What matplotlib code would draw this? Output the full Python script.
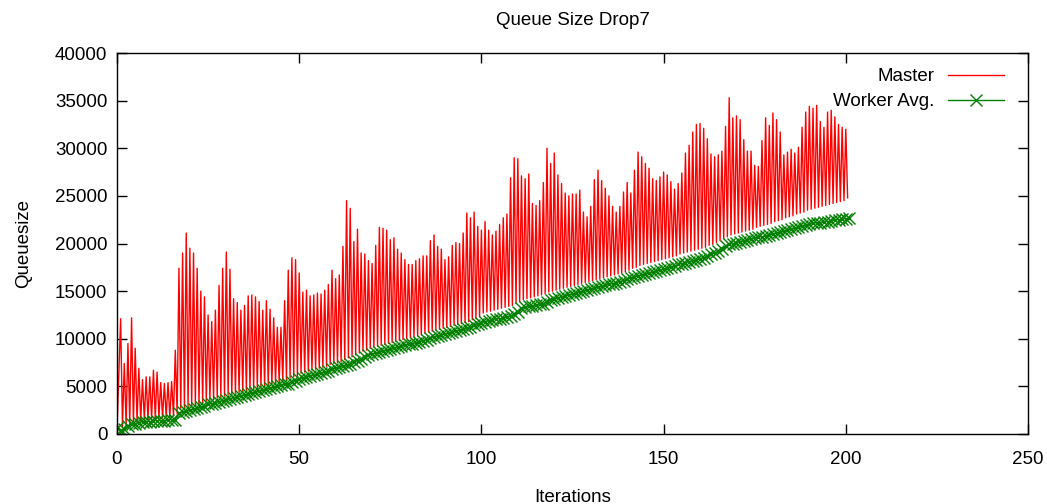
import numpy as np
import matplotlib
matplotlib.use('Agg')
from matplotlib import pyplot as plt

plt.rcParams['font.family'] = ['Liberation Sans', 'DejaVu Sans']
plt.rcParams['font.size'] = 13.5

# master queue size: value at start, peak at each iteration i, trough at i+0.5
master_start = 500
master_peaks = [12100, 7400, 9500, 12200, 9000, 6900, 5700, 6000, 6000, 6700,
                6500, 5400, 5300, 5400, 5500, 8800, 17400, 19000, 21100, 19500,
                19000, 17400, 15000, 14400, 12500, 11800, 13000, 15600, 17400, 19100,
                17300, 14200, 13800, 13000, 13500, 14500, 14600, 14400, 13900, 13000,
                14000, 13100, 12200, 11200, 11200, 14000, 17200, 18500, 18300, 16900,
                14900, 15100, 14500, 14600, 14800, 14700, 15100, 15700, 17200, 16300,
                16700, 19700, 24500, 23700, 20200, 21500, 19000, 18900, 18200, 17900,
                19800, 21700, 21600, 21400, 20400, 20600, 19400, 19000, 18300, 17800,
                17800, 18200, 18400, 18700, 18700, 20300, 20900, 19700, 19400, 18300,
                18600, 19800, 20100, 20000, 21100, 23200, 22700, 23300, 21800, 21400,
                22300, 21400, 20900, 21300, 22000, 22700, 23100, 26900, 29000, 28900,
                27100, 26800, 27300, 24200, 24000, 24500, 26400, 30000, 28400, 29500,
                27200, 26300, 25300, 25000, 25200, 25200, 25600, 23300, 22800, 23900,
                26700, 27700, 26600, 25800, 25000, 23900, 23300, 23900, 25400, 26400,
                25300, 27700, 29600, 29100, 28400, 27900, 26800, 26600, 27000, 27500,
                27200, 26500, 25700, 26300, 27400, 29500, 30300, 31700, 32500, 32600,
                32100, 31000, 29400, 29100, 29300, 29700, 32300, 35300, 33200, 33400,
                33000, 30900, 29700, 29700, 28200, 28100, 30800, 33200, 32400, 33700,
                33000, 31700, 29300, 29600, 29900, 29500, 30100, 32200, 33800, 34400,
                34200, 34500, 32800, 32200, 33800, 34000, 33300, 32500, 32200, 32000]
master_troughs = [800, 900, 1100, 1200, 1300, 1400, 1500, 1500, 1600, 1600,
                  1700, 1700, 1800, 1800, 1900, 2100, 2700, 2800, 2900, 3000,
                  3100, 3200, 3300, 3500, 3600, 3700, 3800, 3900, 4000, 4100,
                  4200, 4300, 4400, 4500, 4600, 4700, 4800, 4900, 5000, 5100,
                  5200, 5300, 5400, 5500, 5600, 5700, 5900, 6000, 6100, 6400,
                  6500, 6600, 6700, 6800, 6900, 7000, 7100, 7300, 7400, 7500,
                  7600, 7800, 8000, 8100, 8300, 8500, 8700, 8800, 9000, 9100,
                  9200, 9300, 9400, 9500, 9600, 9700, 9800, 9900, 10000, 10100,
                  10200, 10300, 10400, 10600, 10700, 10800, 10900, 11000, 11100, 11200,
                  11300, 11400, 11500, 11600, 11700, 11800, 12000, 12100, 12300, 12700,
                  12800, 12900, 13000, 13100, 13200, 13300, 13400, 13500, 13700, 13900,
                  14100, 14200, 14300, 14400, 14500, 14600, 14700, 14900, 15000, 15100,
                  15200, 15300, 15400, 15500, 15600, 15700, 15800, 15900, 16000, 16100,
                  16200, 16300, 16400, 16500, 16600, 16700, 16800, 16900, 17000, 17200,
                  17400, 17500, 17700, 17800, 17900, 18000, 18100, 18200, 18300, 18400,
                  18500, 18600, 18700, 18900, 19000, 19100, 19200, 19300, 19400, 19500,
                  19600, 19800, 19900, 20100, 20300, 20500, 20700, 20900, 21000, 21100,
                  21200, 21300, 21400, 21500, 21700, 21800, 21900, 22000, 22100, 22300,
                  22400, 22500, 22700, 22800, 22900, 23100, 23200, 23300, 23500, 23600,
                  23700, 23800, 23900, 24000, 24100, 24200, 24300, 24400, 24500, 24800]

# worker average queue size, one value per iteration 0..201
worker_avg = [600, 400, 500, 800, 1000, 1100, 1200, 1300, 1300, 1300,
              1400, 1400, 1400, 1400, 1500, 1500, 1500, 2200, 2300, 2400,
              2500, 2600, 2700, 2800, 2900, 3100, 3200, 3300, 3400, 3500,
              3600, 3700, 3800, 3900, 4000, 4100, 4200, 4300, 4400, 4500,
              4600, 4700, 4800, 4900, 5000, 5100, 5200, 5300, 5500, 5600,
              5800, 5900, 6000, 6100, 6200, 6300, 6400, 6500, 6600, 6800,
              6900, 7000, 7100, 7200, 7400, 7600, 7700, 7900, 8100, 8300,
              8400, 8500, 8600, 8700, 8800, 8900, 9000, 9100, 9200, 9300,
              9400, 9500, 9600, 9700, 9800, 9900, 10100, 10200, 10300, 10400,
              10500, 10600, 10700, 10800, 10900, 11000, 11100, 11200, 11400, 11500,
              11700, 11800, 11900, 12000, 12100, 12100, 12200, 12300, 12400, 12600,
              12800, 13200, 13300, 13400, 13400, 13500, 13600, 13700, 13900, 14100,
              14200, 14300, 14400, 14500, 14600, 14700, 14800, 14900, 15000, 15100,
              15200, 15300, 15400, 15500, 15600, 15700, 15800, 15900, 16000, 16100,
              16300, 16400, 16500, 16600, 16700, 16800, 16900, 17000, 17100, 17200,
              17300, 17400, 17500, 17600, 17800, 17900, 18000, 18100, 18200, 18300,
              18400, 18500, 18700, 18900, 19000, 19200, 19400, 19700, 19900, 20000,
              20100, 20200, 20300, 20400, 20500, 20600, 20700, 20700, 20800, 20900,
              21000, 21100, 21200, 21300, 21400, 21500, 21600, 21700, 21800, 21900,
              22000, 22100, 22200, 22200, 22300, 22300, 22400, 22500, 22500, 22600,
              22600, 22700]

x_peak = np.arange(1, len(master_peaks) + 1)
master_x = np.concatenate([[0], np.column_stack([x_peak, x_peak + 0.5]).ravel()])
master_y = np.concatenate([[master_start],
                           np.column_stack([master_peaks, master_troughs]).ravel()])
worker_x = np.arange(len(worker_avg))

fig = plt.figure(figsize=(10.47, 5.04), dpi=100)
ax = fig.add_axes([117/1047, 70/504, 911/1047, 381/504])

ax.plot(master_x, master_y, color='#ff0000', lw=1.0, label='Master')
ax.plot(worker_x, worker_avg, color='#008000', lw=1.0, marker='x',
        markersize=9, markeredgewidth=1.0, label='Worker Avg.')

ax.set_xlim(0, 250)
ax.set_ylim(0, 40000)
ax.set_xticks(range(0, 251, 50))
ax.set_yticks(range(0, 40001, 5000))
ax.tick_params(direction='in', length=7, width=1, top=True, right=True)
ax.tick_params(axis='x', pad=12)
ax.tick_params(axis='y', pad=7)
for s in ax.spines.values():
    s.set_linewidth(1)

ax.set_title('Queue Size Drop7', fontsize=13.5, pad=20)
ax.set_xlabel('Iterations', labelpad=15)
ax.set_ylabel('Queuesize', labelpad=16)

ax.legend(loc='upper right', bbox_to_anchor=(1 - 9/911, 1), frameon=False,
          markerfirst=False, handlelength=3.0, borderaxespad=0.4,
          labelspacing=0.42, handletextpad=0.7)

fig.savefig('out.png', dpi=100)
